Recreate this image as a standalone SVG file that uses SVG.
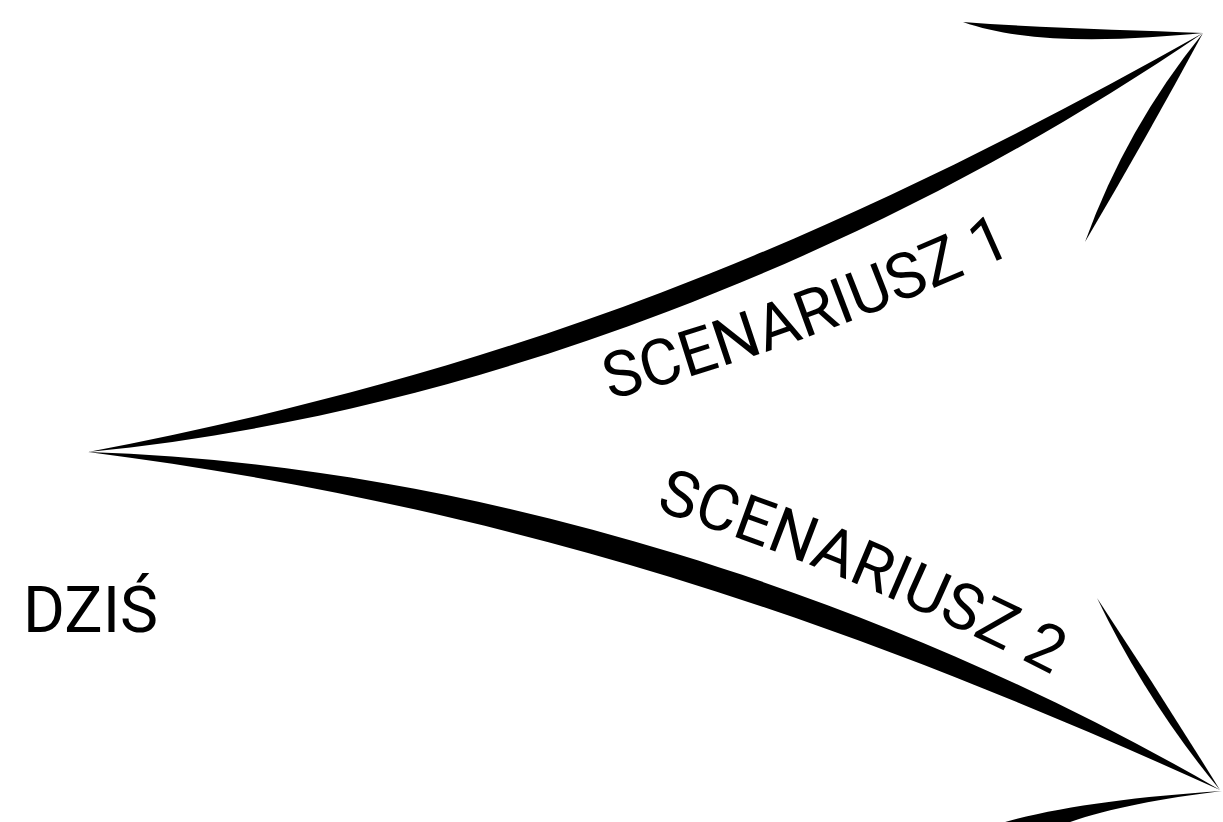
<svg xmlns="http://www.w3.org/2000/svg" width="1223" height="822" viewBox="0 0 1223 822">
  <style>
    .brush { fill: #000; stroke: none; }
    .lbl { font-family: Roboto, "Liberation Sans", sans-serif; font-size: 64px; fill: #000; }
  </style>
  <defs>
    <path id="p1" d="M610,400 Q810,345 1010,255 L1060,232"/>
    <path id="p2" d="M655,510 Q860,575 1062,680 L1110,705"/>
  </defs>
  <rect width="1223" height="822" fill="#fff"/>
  <g id="connectors">
    <path id="stroke-s1" class="brush" d="M88,452 C286.7,414.09 475.69,363.15 660.69,292.75 C845.69,222.4 1023.26,133.85 1203,33 C1032.74,149.15 852.81,241.1 667.81,311.45 C482.81,381.85 289.3,431.91 88,452 Z"/>
    <path id="head-s1-a" class="brush" d="M963,22 C1040,28 1130,30 1203,33 C1130,40 1030,46 963,22 Z"/>
    <path id="head-s1-b" class="brush" d="M1203,33 Q1148,135 1085,242 Q1126,128 1203,33 Z"/>
    <path id="stroke-s2" class="brush" d="M88,452 C288.76,458.53 487.02,495.9 676.27,553.83 C865.52,611.78 1049.58,690.86 1220,790 C1040.42,708.64 858.48,634.72 669.23,576.77 C479.98,518.85 287.24,477.47 88,452 Z"/>
    <path id="head-s2-a" class="brush" d="M1097,598 Q1160,693 1220,790 Q1147,702 1097,598 Z"/>
    <path id="head-s2-b" class="brush" d="M995,825 C1050,808 1130,797 1222,791 C1150,800 1090,812 1050,830 Z"/>
  </g>
  <g id="node-dzis">
    <text class="lbl" x="23" y="632">DZIŚ</text>
  </g>
  <g id="node-scenariusz1">
    <text class="lbl"><textPath href="#p1">SCENARIUSZ 1</textPath></text>
  </g>
  <g id="node-scenariusz2">
    <text class="lbl"><textPath href="#p2">SCENARIUSZ 2</textPath></text>
  </g>
</svg>
